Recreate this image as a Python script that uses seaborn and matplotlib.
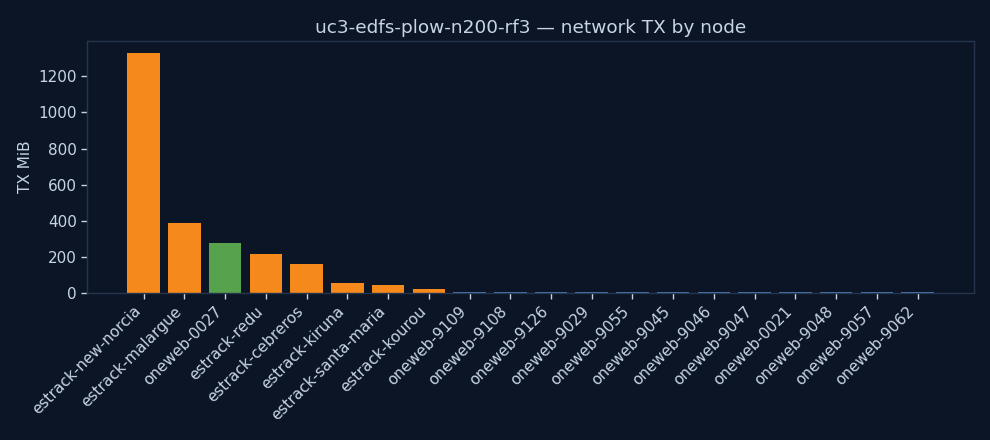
import matplotlib
matplotlib.use("Agg")
import matplotlib.pyplot as plt
import seaborn as sns
import pandas as pd

nodes = ["estrack-new-norcia", "estrack-malargue", "oneweb-0027", "estrack-redu",
         "estrack-cebreros", "estrack-kiruna", "estrack-santa-maria", "estrack-kourou",
         "oneweb-9109", "oneweb-9108", "oneweb-9126", "oneweb-9029", "oneweb-9055",
         "oneweb-9045", "oneweb-9046", "oneweb-9047", "oneweb-0021", "oneweb-9048",
         "oneweb-9057", "oneweb-9062"]
tx_mib = [1329, 389, 278, 217, 162, 57, 46, 24,
          6, 6, 6, 6, 6, 6, 6, 6, 6, 6, 6, 6]
kinds = ["ground", "ground", "gateway", "ground", "ground", "ground", "ground", "ground"] + ["sat"] * 12

kind_colors = {"ground": "#f5891b", "gateway": "#57a34d", "sat": "#4a7cb3"}

BG = "#0b1526"
FG = "#c9d4e3"
SPINE = "#26354d"

sns.set_theme(style="dark")
plt.rcParams["font.family"] = ["DejaVu Sans"]

df = pd.DataFrame({"node": nodes, "tx": tx_mib, "kind": kinds})

fig, ax = plt.subplots(figsize=(9.9, 4.4), dpi=100)
fig.patch.set_facecolor(BG)
ax.set_facecolor(BG)

sns.barplot(data=df, x="node", y="tx", hue="node",
            palette=[kind_colors[k] for k in kinds], legend=False,
            width=0.8, saturation=1, linewidth=0, edgecolor="none", ax=ax)

ax.set_xlim(-1.39, len(nodes) - 1 + 1.39)
ax.set_ylim(0, max(tx_mib) * 1.05)
ax.set_title("uc3-edfs-plow-n200-rf3 — network TX by node", color=FG, fontsize=13.3)
ax.set_xlabel("")
ax.set_ylabel("TX MiB", color=FG, fontsize=11)
ax.tick_params(axis="both", colors=FG, labelsize=11, length=4, width=1,
               bottom=True, left=True)
plt.setp(ax.get_xticklabels(), rotation=45, ha="right")
for s in ax.spines.values():
    s.set_visible(True)
    s.set_color(SPINE)
    s.set_linewidth(1)
ax.grid(False)

fig.subplots_adjust(left=0.088, right=0.984, top=0.907, bottom=0.334)
fig.savefig("out.png", dpi=100, facecolor=BG)
